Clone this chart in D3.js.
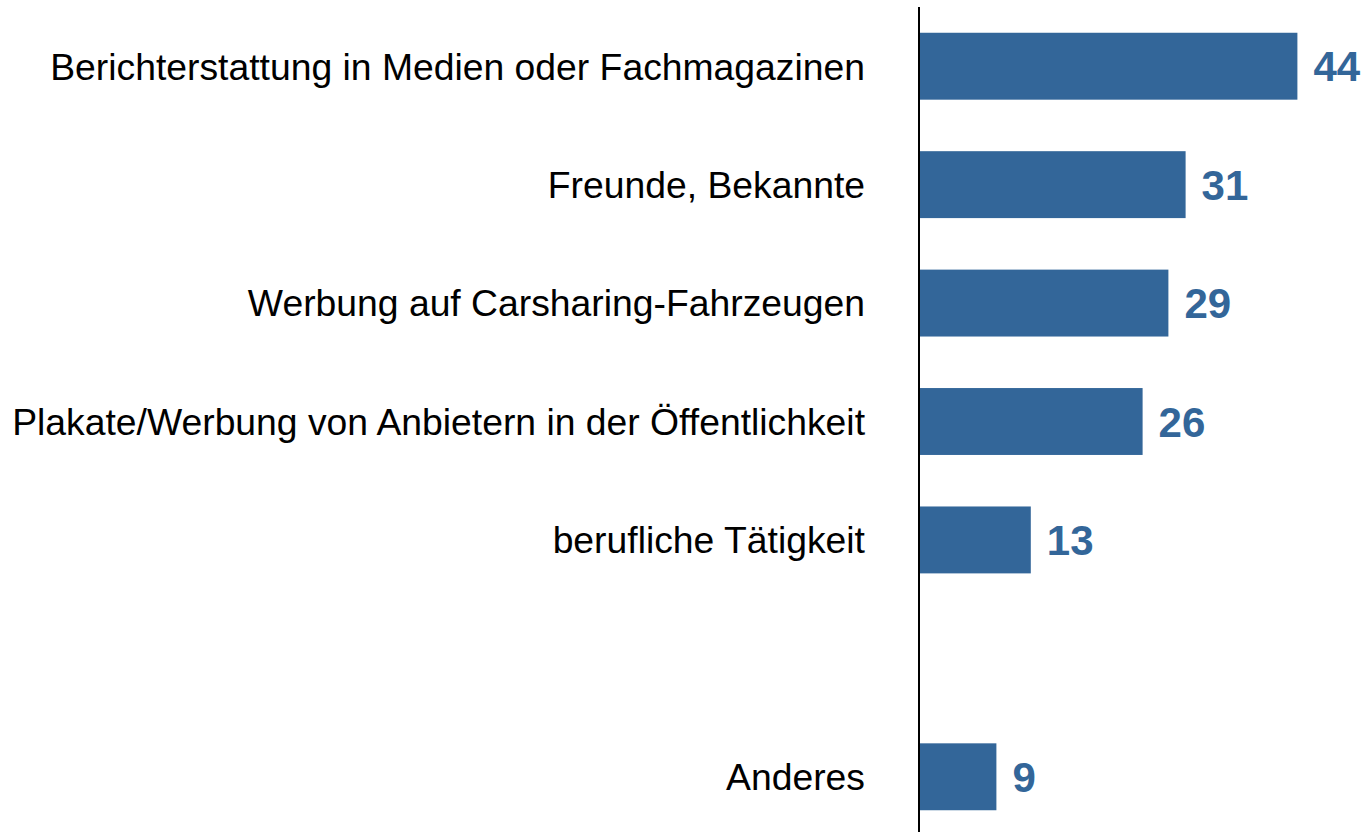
<!DOCTYPE html>
<html>
<head>
<meta charset="utf-8">
<script src="https://cdn.jsdelivr.net/npm/d3@7"></script>
<style>
  body { margin: 0; background: #fff; }
  svg { display: block; }
</style>
</head>
<body>
<div id="chart"></div>
<script>
// categories top to bottom; the empty slot stays empty like in the original
const categories = [
    "Berichterstattung in Medien oder Fachmagazinen",
    "Freunde, Bekannte",
    "Werbung auf Carsharing-Fahrzeugen",
    "Plakate/Werbung von Anbietern in der Öffentlichkeit",
    "berufliche Tätigkeit",
    "__gap__",
    "Anderes"
];
const values = [44, 31, 29, 26, 13, null, 9];

const width = 1363;
const height = 832;
const axisX = 919;
const barColor = '#336699';

const svg = d3.select('#chart')
    .append('svg')
    .attr('width', width)
    .attr('height', height);

const y = d3.scaleBand()
    .domain(categories)
    .range([7, 836])
    .paddingInner(0.435)
    .paddingOuter(0.2175);

const x = d3.scaleLinear()
    .domain([0, 50])
    .range([axisX, axisX + 430]);

const rows = categories.map((c, i) => ({ cat: c, value: values[i] }));
const filled = rows.filter(d => d.value !== null);

svg.selectAll('rect.bar')
    .data(filled)
    .enter()
    .append('rect')
    .attr('class', 'bar')
    .attr('x', x(0))
    .attr('y', d => y(d.cat))
    .attr('width', d => x(d.value) - x(0))
    .attr('height', y.bandwidth())
    .attr('fill', barColor);

// category labels
svg.selectAll('text.cat')
    .data(filled)
    .enter()
    .append('text')
    .attr('class', 'cat')
    .attr('x', axisX - 54)
    .attr('y', d => y(d.cat) + y.bandwidth() / 2)
    .attr('dy', '0.36em')
    .attr('text-anchor', 'end')
    .style('font-family', 'Liberation Sans, Arial, sans-serif')
    .style('font-size', '37.3px')
    .style('fill', '#000')
    .text(d => d.cat);

// value labels
svg.selectAll('text.val')
    .data(filled)
    .enter()
    .append('text')
    .attr('class', 'val')
    .attr('x', d => x(d.value) + 16)
    .attr('y', d => y(d.cat) + y.bandwidth() / 2)
    .attr('dy', '0.36em')
    .style('font-family', 'Liberation Sans, Arial, sans-serif')
    .style('font-size', '42px')
    .style('font-weight', 'bold')
    .style('fill', barColor)
    .text(d => d.value);

// vertical axis line
svg.append('line')
    .attr('x1', axisX)
    .attr('x2', axisX)
    .attr('y1', 7)
    .attr('y2', height)
    .attr('stroke', '#000')
    .attr('stroke-width', 2);
</script>
</body>
</html>
